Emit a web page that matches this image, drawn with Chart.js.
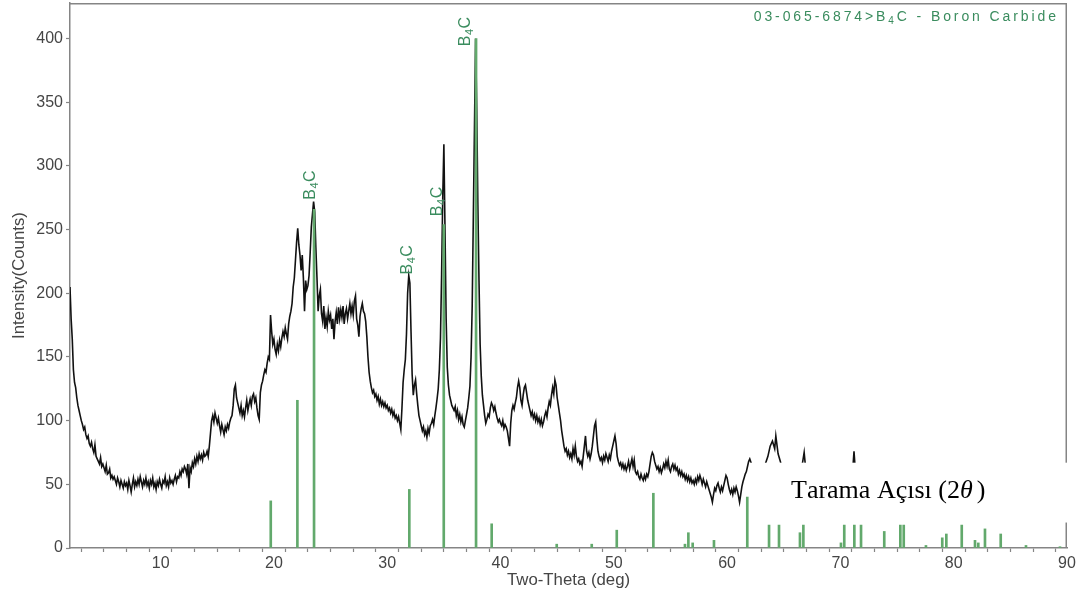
<!DOCTYPE html>
<html>
<head>
<meta charset="utf-8">
<script src="https://cdn.jsdelivr.net/npm/chart.js@4.4.1/dist/chart.umd.min.js"></script>
<style>
  html, body { margin: 0; padding: 0; background: #ffffff; }
  canvas { display: block; }
</style>
</head>
<body>
<canvas id="xrd" width="1080" height="595"></canvas>
<script>
// Measured scan: counts every 0.1 deg two-theta, starting at 2.0 deg
const scanStart = 2.0;
const scanStep = 0.1;
const scanCounts = [
  205,180,164,140,130,126,118,112,108,104,
  100,97,93,95,89,86,88,82,80,83,
  78,75,81,72,70,68,66,71,64,66,
  63,60,65,58,59,62,55,57,54,56,
  53,50,55,52,48,53,50,47,52,49,
  51,46,53,49,44,50,55,48,52,49,
  54,50,56,52,48,53,50,55,49,52,
  47,53,50,55,48,51,46,52,49,54,
  50,47,53,51,56,49,52,48,55,51,
  53,50,54,57,52,56,55,60,57,62,
  60,64,62,58,66,47,63,60,67,64,
  70,66,72,68,74,70,73,69,75,72,
  73,76,72,80,90,100,104,99,106,102,
  98,102,96,91,97,93,89,95,92,97,
  94,99,102,104,112,125,128,118,114,110,
  106,112,104,108,103,110,116,108,113,117,
  112,119,121,115,118,110,104,101,122,128,
  131,136,140,138,145,150,148,183,170,160,
  164,156,152,160,155,163,158,165,170,166,
  173,168,164,176,182,186,192,205,212,226,
  240,251,238,230,218,230,212,186,210,203,
  206,214,232,252,262,272,264,236,212,186,
  198,203,184,178,190,172,181,174,186,179,
  183,172,180,164,178,185,176,189,180,187,
  181,190,176,184,188,180,186,192,184,190,
  183,194,198,180,175,166,182,188,192,186,
  184,178,166,150,138,131,126,122,124,119,
  121,116,119,113,117,112,115,111,114,110,
  112,108,110,106,109,104,107,102,104,100,
  103,98,93,110,130,140,148,168,200,214,
  208,170,136,120,128,132,121,112,104,100,
  96,92,95,89,92,87,94,90,96,98,
  101,97,104,110,117,125,140,165,215,275,
  317,250,180,142,128,120,116,112,110,108,
  111,104,108,101,105,99,103,97,95,100,
  105,110,118,127,150,190,260,330,400,345,
  270,210,160,135,120,112,104,98,101,105,
  103,110,114,112,108,111,106,102,99,101,
  98,96,100,94,97,95,92,86,80,98,
  108,112,109,114,118,126,131,126,116,112,
  120,126,128,122,116,112,108,104,107,102,
  105,100,104,99,102,97,101,96,99,104,
  107,103,110,115,112,120,126,121,132,128,
  118,112,106,100,92,86,80,76,78,73,
  76,71,74,70,78,73,80,72,68,70,
  66,68,64,72,80,88,76,72,75,70,
  74,80,88,96,99,86,76,72,69,71,
  67,72,69,74,71,68,73,70,76,80,
  84,88,82,72,68,65,67,63,66,62,
  65,61,64,68,62,66,70,64,69,60,
  58,60,56,54,58,55,53,57,54,58,
  56,60,66,72,75,73,68,65,62,64,
  60,63,59,62,66,63,68,64,69,62,
  60,64,66,62,65,61,63,58,61,57,
  60,56,58,54,57,53,56,52,55,51,
  53,50,54,51,56,53,57,54,50,54,
  51,48,52,49,46,43,40,36,42,47,
  45,49,51,47,44,48,45,49,53,57,
  55,50,46,43,46,42,47,44,48,45,
  41,36,42,48,52,55,58,60,64,68
];

// High-angle end of the scan (62 - 90 deg)
const tailTheta  = [62.0,62.3,62.6,63.0,63.3,63.6,63.8,64.0,64.2,64.3,64.5,64.7,65.0,65.5,66.0,66.5,66.8,67.0,67.5,68.0,69.0,70.0,70.5,71.0,71.2,71.4,72.0,73.0,74.0,75.0,76.0,77.0,78.0,79.0,80.0,81.0,82.0,83.0,84.0,85.0,86.0,87.0,88.0,89.0,90.0];
const tailCounts = [70,62,58,60,64,72,80,84,78,88,74,68,56,52,54,58,75,56,50,48,46,48,52,50,76,50,46,44,45,46,43,42,40,42,41,43,40,41,40,39,40,38,39,38,37];

// Reference pattern 03-065-6874 (B4C): line positions and scaled intensities
const stickTheta  = [19.72,22.07,23.54,31.95,34.99,37.84,39.22,44.96,48.05,50.26,53.49,56.28,56.58,56.96,58.84,61.78,63.70,64.58,66.43,66.73,70.05,70.34,71.23,71.82,73.87,75.29,75.59,77.55,78.99,79.35,80.71,81.88,82.17,82.76,84.15,86.38,89.38];
const stickCounts = [37,116,266,46,254,400,19,3,3,14,43,3,12,4,6,40,18,18,12,18,4,18,18,18,13,18,18,2,8,11,18,6,4,15,11,2,1];

// Phase labels placed above the indexed reflections
const phaseLabelTheta  = [23.60, 32.15, 34.80, 37.27];
const phaseLabelCounts = [273.5, 214.8, 260.6, 394.0];

// Axis ticks
const xTickValues = [2,4,6,8,10,12,14,16,18,20,22,24,26,28,30,32,34,36,38,40,42,44,46,48,50,52,54,56,58,60,62,64,66,68,70,72,74,76,78,80,82,84,86,88,90];
const xLabelValues = [10,20,30,40,50,60,70,80,90];
const yTickValues = [0,50,100,150,200,250,300,350,400];

const cardTitle = '03-065-6874>B4C - Boron Carbide';
const xTitle = 'Two-Theta (deg)';
const yTitle = 'Intensity(Counts)';
const noteText = 'Tarama Açısı (2';
const noteSymbol = 'θ';
const noteClose = ')';

const phaseGreen = '#3a8c5e';
const stickGreen = '#62a96c';
const axisGray = '#858585';
const textGray = '#454545';
const sansFont = '"Liberation Sans", Arial, sans-serif';
const serifFont = '"Liberation Serif", "Times New Roman", serif';

const scanPoints = scanCounts.map((c, i) => ({ x: +(scanStart + i * scanStep).toFixed(1), y: c }))
  .concat(tailTheta.map((t, i) => ({ x: t, y: tailCounts[i] })));
const stickPoints = stickTheta.map((t, i) => ({ x: t, y: stickCounts[i] }));

// Draws a sequence of differently styled text runs, character by character
function drawRuns(ctx, runs, x, y, spacing) {
  let cx = x;
  for (const r of runs) {
    ctx.font = r.font;
    for (const ch of r.text) {
      ctx.fillText(ch, cx, y + (r.dy || 0));
      cx += ctx.measureText(ch).width + spacing;
    }
  }
  return cx - x;
}
function measureRuns(ctx, runs, spacing) {
  let w = 0;
  for (const r of runs) {
    ctx.font = r.font;
    for (const ch of r.text) w += ctx.measureText(ch).width + spacing;
  }
  return w;
}
function formulaRuns(text, size, weight) {
  // split around the "4" in B4C so it is set as a subscript
  const idx = text.indexOf('B4C');
  const base = `${weight} ${size}px ${sansFont}`;
  const small = `${weight} ${Math.round(size * 0.68)}px ${sansFont}`;
  if (idx < 0) return [{ text, font: base }];
  return [
    { text: text.slice(0, idx + 1), font: base },
    { text: '4', font: small, dy: size * 0.22 },
    { text: text.slice(idx + 2), font: base }
  ];
}

const overlay = {
  id: 'overlay',
  afterDatasetsDraw(chart) {
    const { ctx, chartArea: a, scales: { x, y } } = chart;
    ctx.save();

    // top and right edges of the plot frame
    ctx.strokeStyle = axisGray;
    ctx.lineWidth = 1.5;
    ctx.beginPath();
    ctx.moveTo(a.left, a.top + 0.75);
    ctx.lineTo(a.right - 0.75, a.top + 0.75);
    ctx.lineTo(a.right - 0.75, a.bottom);
    ctx.stroke();

    // phase labels, rotated to read bottom-to-top
    ctx.fillStyle = phaseGreen;
    ctx.textBaseline = 'alphabetic';
    ctx.textAlign = 'left';
    phaseLabelTheta.forEach((t, i) => {
      const px = x.getPixelForValue(t);
      const py = y.getPixelForValue(phaseLabelCounts[i]);
      ctx.save();
      ctx.translate(px, py);
      ctx.rotate(-Math.PI / 2);
      drawRuns(ctx, formulaRuns('B4C', 16, 'normal'), 0, 0, 0.5);
      ctx.restore();
    });

    // reference card caption, right-aligned in the top corner
    const capRuns = formulaRuns(cardTitle, 14, 'normal');
    const capSpacing = 2.9;
    const capW = measureRuns(ctx, capRuns, capSpacing) - capSpacing;
    drawRuns(ctx, capRuns, a.right - 11 - capW, a.top + 18, capSpacing);

    // white note panel over the high-angle corner
    const bx = x.getPixelForValue(62.02);
    const by = y.getPixelForValue(67);
    const bb = y.getPixelForValue(20);
    ctx.fillStyle = '#ffffff';
    ctx.fillRect(bx, by, a.right + 8 - bx, bb - by);

    ctx.fillStyle = '#000000';
    const tx = bx + 41;
    const ty = by + 35;
    const w1 = drawRuns(ctx, [{ text: noteText, font: `26px ${serifFont}` }], tx, ty, 0);
    const w2 = drawRuns(ctx, [{ text: noteSymbol, font: `italic 26px ${serifFont}` }], tx + w1, ty, 0);
    drawRuns(ctx, [{ text: noteClose, font: `26px ${serifFont}` }], tx + w1 + w2 + 4, ty, 0);

    ctx.restore();
  }
};

new Chart(document.getElementById('xrd'), {
  type: 'bar',
  data: {
    datasets: [
      {
        type: 'bar',
        label: 'B4C reference',
        data: stickPoints,
        backgroundColor: stickGreen,
        borderWidth: 0,
        barThickness: 2,
        order: 0
      },
      {
        type: 'line',
        label: 'Scan',
        data: scanPoints,
        borderColor: '#111111',
        borderWidth: 1.6,
        pointRadius: 0,
        tension: 0,
        fill: false,
        order: 1
      }
    ]
  },
  options: {
    responsive: false,
    animation: false,
    devicePixelRatio: 1,
    layout: { padding: { top: 3, right: 13, left: 0, bottom: 0 } },
    plugins: {
      legend: { display: false },
      tooltip: { enabled: false },
      title: { display: false }
    },
    scales: {
      x: {
        type: 'linear',
        min: 2,
        max: 90,
        offset: false,
        afterBuildTicks: s => { s.ticks = xTickValues.map(v => ({ value: v })); },
        afterFit: s => { s.height = 47; },
        ticks: {
          autoSkip: false,
          maxRotation: 0,
          padding: 2,
          color: textGray,
          font: { family: sansFont, size: 16 },
          callback: v => (xLabelValues.includes(v) ? String(v) : '')
        },
        grid: { drawOnChartArea: false, drawTicks: true, tickLength: 4, tickColor: axisGray, tickWidth: 1.2 },
        border: { display: true, color: axisGray, width: 1.5 },
        title: {
          display: true,
          text: xTitle,
          color: textGray,
          font: { family: sansFont, size: 16.8 },
          padding: { top: 0, bottom: 5 }
        }
      },
      y: {
        type: 'linear',
        min: 0,
        max: 428,
        afterBuildTicks: s => { s.ticks = yTickValues.map(v => ({ value: v })); },
        afterFit: s => { s.width = 70; s.paddingTop = 0; s.paddingBottom = 0; },
        ticks: {
          padding: 3,
          color: textGray,
          font: { family: sansFont, size: 16 }
        },
        grid: { drawOnChartArea: false, drawTicks: true, tickLength: 4, tickColor: axisGray, tickWidth: 1.2 },
        border: { display: true, color: axisGray, width: 1.5 },
        title: {
          display: true,
          text: yTitle,
          color: textGray,
          font: { family: sansFont, size: 16.8 },
          padding: { top: 9, bottom: 0 }
        }
      }
    }
  },
  plugins: [overlay]
});
</script>
</body>
</html>
